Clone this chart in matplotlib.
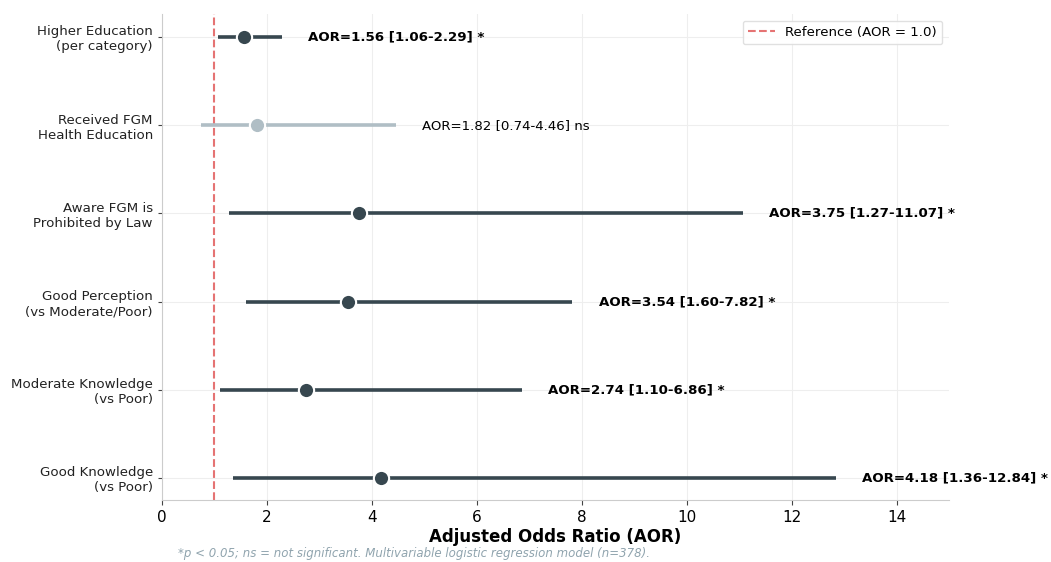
import matplotlib
matplotlib.use("Agg")
import matplotlib.pyplot as plt

labels = ["Good Knowledge\n(vs Poor)", "Moderate Knowledge\n(vs Poor)", "Good Perception\n(vs Moderate/Poor)",
          "Aware FGM is\nProhibited by Law", "Received FGM\nHealth Education", "Higher Education\n(per category)"]
aor = [4.18, 2.74, 3.54, 3.75, 1.82, 1.56]
lower = [1.36, 1.10, 1.60, 1.27, 0.74, 1.06]
upper = [12.84, 6.86, 7.82, 11.07, 4.46, 2.29]
sig = [True, True, True, True, False, True]

fig = plt.figure(figsize=(10.51, 5.62), dpi=100)
ax = fig.add_axes([162/1051, 1-500/562, (949-162)/1051, (500-14)/562])

dark = "#37474F"
light = "#B0BEC5"
for i in range(len(labels)):
    c = dark if sig[i] else light
    ax.plot([lower[i], upper[i]], [i, i], color=c, lw=2.6, solid_capstyle='butt', zorder=2)
    ax.plot(aor[i], i, 'o', color=c, markersize=11, markeredgecolor='white', markeredgewidth=1.5, zorder=3)
    txt = f"AOR={aor[i]:.2f} [{lower[i]:.2f}-{upper[i]:.2f}] " + ("*" if sig[i] else "ns")
    ax.text(upper[i] + 0.5, i, txt, va='center', ha='left', fontsize=9.6,
            fontweight='bold' if sig[i] else 'normal', color='black')

ax.axvline(1.0, color="#E57373", ls='--', lw=1.5, label="Reference (AOR = 1.0)", zorder=1)
ax.set_yticks(range(len(labels)))
ax.set_yticklabels(labels, fontsize=9.6, color='#222222')
ax.set_xlim(0, 15)
ax.set_ylim(-0.25, 5.26)
ax.set_xticks([0, 2, 4, 6, 8, 10, 12, 14])
ax.tick_params(axis='x', labelsize=11, color='#444444')
ax.tick_params(axis='y', length=3, color='#444444')
ax.set_xlabel("Adjusted Odds Ratio (AOR)", fontsize=12, fontweight='bold', labelpad=2)
ax.grid(True, color='#EEEEEE', lw=0.8)
ax.set_axisbelow(True)
for s in ['top', 'right']:
    ax.spines[s].set_visible(False)
for s in ['left', 'bottom']:
    ax.spines[s].set_color('#CCCCCC')
ax.legend(loc='upper right', fontsize=9.6, framealpha=0.9, edgecolor='#DDDDDD')
fig.text(178/1051, 1-553/562, "*p < 0.05; ns = not significant. Multivariable logistic regression model (n=378).",
         fontsize=8.5, style='italic', color='#90A4AE', va='center')
fig.savefig("out.png", dpi=100)
